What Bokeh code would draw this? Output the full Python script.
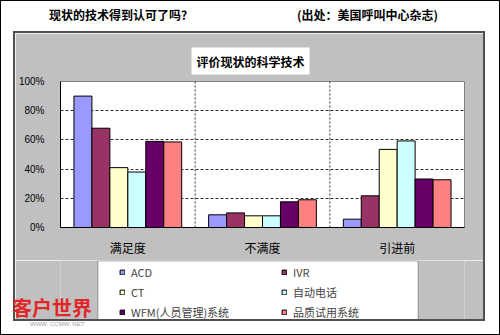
from bokeh.plotting import figure
from bokeh.layouts import column
from bokeh.models import (FactorRange, Range1d, BoxAnnotation, Span, Legend, LegendItem,
                          NumeralTickFormatter, FixedTicker, ColumnDataSource, Div)
from bokeh.transform import dodge
from bokeh.embed import file_html
from bokeh.resources import INLINE

categories = ["满足度", "不满度", "引进前"]
series = ["ACD", "IVR", "CT", "自动电话", "WFM(人员管理)系统", "品质试用系统"]
colors = ["#9999FF", "#993366", "#FFFFCC", "#CCFFFF", "#660066", "#FF8080"]
acd = [0.90, 0.087, 0.057]
ivr = [0.68, 0.10, 0.217]
ct = [0.41, 0.08, 0.535]
auto_call = [0.38, 0.08, 0.593]
wfm = [0.59, 0.176, 0.332]
quality = [0.586, 0.19, 0.327]
y_ticks = [0, 0.2, 0.4, 0.6, 0.8, 1.0]

title_left = "现状的技术得到认可了吗?"
title_right = "(出处：美国呼叫中心杂志)"
chart_title = "评价现状的科学技术"
watermark = "客户世界"
watermark_url = "WWW. CCMW. NET"

CJK = "Noto Sans CJK SC"
LAT = "Liberation Sans"
GRAY = "#C0C0C0"

# ---------- main chart (gray panel, upper part) ----------
p = figure(width=468, height=227, x_range=FactorRange(factors=categories, range_padding=0),
           y_range=Range1d(0, 1.0), output_backend="svg", toolbar_location=None,
           min_border_left=45, min_border_right=19, min_border_top=48, min_border_bottom=33,
           title=chart_title)
p.border_fill_color = GRAY
p.background_fill_color = "white"
p.outline_line_color = "#808080"

p.title.align = "left"
p.title.offset = 131
p.title.text_font = CJK
p.title.text_font_size = "12px"
p.title.text_font_style = "bold"
p.title.text_color = "black"
p.title.background_fill_color = "white"
p.title.padding = 5
p.title.standoff = 14

src = ColumnDataSource(dict(x=categories, s0=acd, s1=ivr, s2=ct, s3=auto_call, s4=wfm, s5=quality))
bw = 0.8 / 6
for i, col in enumerate(colors):
    p.vbar(x=dodge("x", (i - 2.5) * bw, range=p.x_range), top="s%d" % i, width=bw,
           source=src, fill_color=col, line_color="black", line_width=1)

p.xgrid.grid_line_color = None
p.ygrid.ticker = FixedTicker(ticks=[0.2, 0.4, 0.6, 0.8])
p.ygrid.grid_line_color = "#303030"
p.ygrid.grid_line_dash = "3 2"
for loc in [1, 2]:
    p.add_layout(Span(location=loc, dimension="height", line_color="#303030",
                      line_dash="2 2", line_width=1))

p.yaxis.ticker = FixedTicker(ticks=y_ticks)
p.yaxis.formatter = NumeralTickFormatter(format="0%")
p.yaxis.major_tick_line_color = None
p.yaxis.minor_tick_line_color = None
p.yaxis.axis_line_color = "black"
p.yaxis.major_label_text_font = LAT
p.yaxis.major_label_text_font_size = "10px"
p.yaxis.major_label_standoff = 10
p.yaxis.major_label_text_color = "black"
p.xaxis.major_tick_line_color = None
p.xaxis.axis_line_color = "black"
p.xaxis.major_label_text_font = CJK
p.xaxis.major_label_text_font_size = "12px"
p.xaxis.major_label_standoff = 5
p.xaxis.major_label_text_color = "black"

# ---------- legend strip (gray panel, lower part); frame aligned with p ----------
q = figure(width=468, height=59, x_range=Range1d(45, 449), y_range=Range1d(59, 0),
           output_backend="svg", toolbar_location=None,
           x_axis_location=None, y_axis_location=None,
           min_border_left=45, min_border_right=19, min_border_top=0, min_border_bottom=0)
q.grid.visible = False
q.background_fill_color = GRAY
q.border_fill_color = GRAY
q.outline_line_color = None

# proxies for the legend swatches (hidden under the legend box)
proxies = [q.vbar(x=[200], top=[30], bottom=[30], width=0, fill_color=c, line_color="black")
           for c in colors]
q.add_layout(BoxAnnotation(left=82.5, right=402.5, top=0.5, bottom=60,
                           fill_color="white", fill_alpha=1, line_color="black", line_width=1))
items = [LegendItem(label=n, renderers=[r]) for n, r in zip(series, proxies)]
legend = Legend(items=items, ncols=2, orientation="horizontal", location=(59, -1),
                glyph_width=6, glyph_height=6, label_standoff=6, label_width=146,
                label_height=14, spacing=4, padding=0, margin=0,
                background_fill_alpha=0, border_line_color=None,
                label_text_font=CJK, label_text_font_size="11px")
q.add_layout(legend, "center")

# ---------- page ----------
header = Div(text=(
    '<div style="position:relative;width:500px;height:33px;font-family:\'Noto Sans CJK SC\';'
    'font-size:12px;font-weight:bold;color:black;line-height:16px;">'
    '<span style="position:absolute;left:49px;top:7px;white-space:nowrap;">%s</span>'
    '<span style="position:absolute;left:297px;top:7px;white-space:nowrap;">%s</span>'
    '</div>' % (title_left, title_right)), width=500, height=33, margin=(0, 0, 0, 0))
footer = Div(text=(
    '<div style="position:relative;width:500px;height:36px;">'
    '<span style="position:absolute;left:12px;top:-2px;white-space:nowrap;'
    'font-family:\'Noto Sans CJK SC\';font-size:20px;font-weight:bold;line-height:22px;'
    'color:#E02828;">%s</span>'
    '<span style="position:absolute;left:30px;top:21px;white-space:nowrap;font-family:\'Liberation Sans\';'
    'font-size:6px;line-height:8px;color:#A0A0A0;">%s</span></div>' % (watermark, watermark_url)),
    width=500, height=36, margin=(-20, 0, 0, 0))
panel = column(p, q, margin=(0, 17, 0, 15), spacing=0,
               styles={"box-shadow": "0 0 0 2px #505050"})
root = column(header, panel, footer, spacing=0,
              styles={"background-color": "white", "outline": "1px solid black",
                      "outline-offset": "-1px"})

open("out.html", "w").write(file_html(root, INLINE))
